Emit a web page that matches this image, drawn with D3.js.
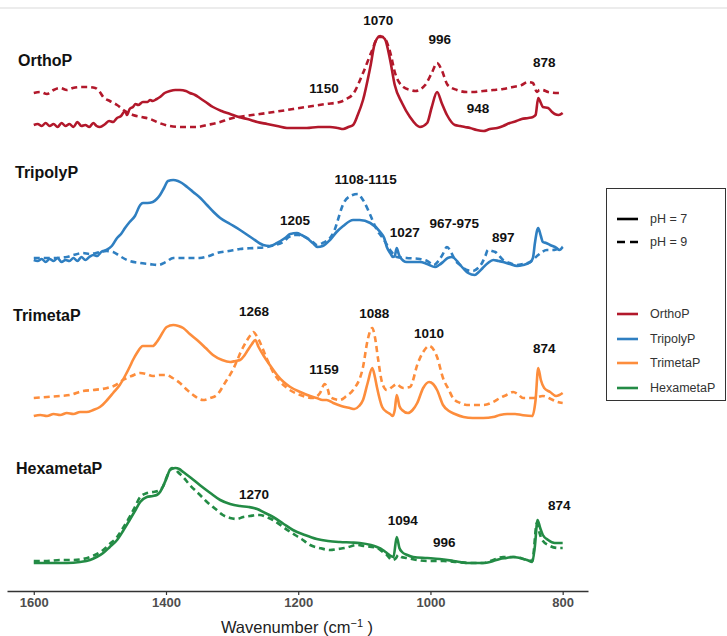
<!DOCTYPE html>
<html>
<head>
<meta charset="utf-8">
<script src="https://cdn.jsdelivr.net/npm/d3@7"></script>
<style>
  html, body { margin: 0; padding: 0; background: #fff; }
  svg { display: block; font-family: "Liberation Sans", Arial, Helvetica, sans-serif; }
</style>
</head>
<body>
<svg id="chart" width="727" height="636"></svg>
<script>
// FTIR spectra of phosphate species adsorbed at pH 7 (solid) and pH 9 (dashed).
// Each spectrum is [wavenumber (cm-1), absorbance above its own baseline (a.u.)].

const compounds = ["OrthoP", "TripolyP", "TrimetaP", "HexametaP"];
const phLevels = ["pH = 7", "pH = 9"];
const wavenumberTicks = [1600, 1400, 1200, 1000, 800];
// vertical stacking offset of each spectrum (a.u.)
const stackOffsets = [4.61, 3.15, 1.71, 0.25];

const orthoP_pH7 = [[1600,0.05],[1594,0.06],[1588,0.04],[1582,0.07],[1576,0.04],[1570,0.06],[1564,0.03],[1558,0.07],[1552,0.04],[1546,0.06],[1540,0.03],[1534,0.08],[1528,0.04],[1522,0.05],[1516,0.03],[1510,0.07],[1505,0.04],[1500,0.03],[1492,0.06],[1486,0.09],[1480,0.08],[1474,0.12],[1468,0.14],[1462,0.19],[1459,0.15],[1455,0.21],[1450,0.23],[1446,0.26],[1442,0.25],[1435,0.28],[1428,0.28],[1424,0.30],[1420,0.29],[1414,0.31],[1409,0.33],[1402,0.37],[1394,0.39],[1386,0.40],[1379,0.40],[1370,0.39],[1364,0.37],[1356,0.35],[1349,0.32],[1340,0.28],[1329,0.23],[1316,0.19],[1303,0.16],[1290,0.13],[1277,0.11],[1262,0.08],[1247,0.06],[1232,0.04],[1217,0.02],[1200,0.02],[1187,0.02],[1170,0.03],[1152,0.03],[1140,0.02],[1132,0.01],[1124,0.03],[1117,0.05],[1110,0.15],[1102,0.30],[1091,0.63],[1084,0.87],[1076,0.94],[1069,0.91],[1061,0.70],[1054,0.45],[1043,0.27],[1031,0.13],[1016,0.03],[1005,0.07],[998,0.23],[990,0.38],[983,0.27],[975,0.15],[963,0.05],[955,0.04],[948,0.03],[940,0.02],[930,0.00],[920,-0.01],[910,0.01],[899,0.02],[890,0.04],[880,0.07],[870,0.09],[862,0.11],[852,0.12],[845,0.13],[841,0.15],[837,0.32],[833,0.27],[830,0.23],[822,0.22],[816,0.18],[812,0.16],[806,0.15],[800,0.17]];

const orthoP_pH9 = [[1600,0.37],[1590,0.38],[1580,0.36],[1570,0.40],[1560,0.42],[1550,0.40],[1541,0.42],[1530,0.43],[1520,0.43],[1507,0.42],[1500,0.38],[1495,0.33],[1485,0.29],[1474,0.25],[1462,0.19],[1450,0.15],[1437,0.13],[1424,0.11],[1410,0.07],[1394,0.04],[1375,0.03],[1353,0.03],[1338,0.05],[1323,0.07],[1299,0.12],[1280,0.14],[1258,0.16],[1237,0.18],[1217,0.20],[1198,0.22],[1178,0.24],[1158,0.26],[1137,0.28],[1127,0.31],[1117,0.36],[1102,0.57],[1088,0.80],[1079,0.93],[1072,0.93],[1061,0.78],[1054,0.58],[1041,0.43],[1030,0.40],[1023,0.39],[1008,0.45],[998,0.57],[990,0.67],[983,0.60],[974,0.45],[960,0.40],[945,0.38],[936,0.38],[920,0.39],[905,0.40],[890,0.41],[875,0.43],[862,0.45],[853,0.48],[845,0.47],[839,0.38],[835,0.40],[831,0.40],[822,0.38],[807,0.37],[800,0.37]];

const tripolyP_pH7 = [[1600,0.16],[1594,0.15],[1588,0.17],[1582,0.14],[1576,0.17],[1570,0.15],[1564,0.18],[1558,0.14],[1552,0.16],[1546,0.15],[1540,0.18],[1534,0.15],[1528,0.19],[1522,0.16],[1516,0.19],[1510,0.21],[1504,0.20],[1498,0.24],[1490,0.26],[1482,0.30],[1474,0.38],[1468,0.42],[1462,0.48],[1455,0.54],[1447,0.60],[1439,0.71],[1435,0.73],[1428,0.73],[1420,0.74],[1414,0.77],[1409,0.81],[1403,0.88],[1397,0.95],[1389,0.96],[1382,0.95],[1376,0.93],[1368,0.89],[1359,0.84],[1348,0.78],[1338,0.71],[1328,0.64],[1318,0.58],[1303,0.52],[1288,0.46],[1270,0.38],[1253,0.31],[1243,0.30],[1232,0.33],[1220,0.38],[1212,0.42],[1202,0.43],[1195,0.41],[1187,0.38],[1178,0.33],[1171,0.29],[1163,0.30],[1152,0.36],[1142,0.44],[1132,0.50],[1117,0.56],[1107,0.56],[1091,0.53],[1076,0.44],[1070,0.38],[1066,0.29],[1060,0.22],[1057,0.19],[1054,0.20],[1051,0.28],[1048,0.22],[1046,0.19],[1036,0.14],[1026,0.14],[1016,0.14],[1005,0.12],[993,0.09],[987,0.11],[981,0.14],[974,0.18],[967,0.19],[960,0.15],[955,0.11],[948,0.06],[943,0.03],[933,0.01],[927,0.04],[921,0.08],[913,0.13],[905,0.16],[897,0.15],[890,0.14],[880,0.12],[869,0.10],[860,0.11],[849,0.14],[845,0.18],[842,0.33],[837,0.48],[833,0.40],[830,0.34],[825,0.33],[819,0.31],[809,0.28],[805,0.26],[800,0.29]];

const tripolyP_pH9 = [[1600,0.18],[1575,0.18],[1550,0.19],[1540,0.21],[1526,0.23],[1515,0.22],[1500,0.24],[1490,0.25],[1480,0.24],[1470,0.20],[1459,0.16],[1439,0.13],[1425,0.12],[1412,0.11],[1400,0.14],[1389,0.18],[1370,0.18],[1349,0.18],[1335,0.20],[1323,0.23],[1305,0.25],[1288,0.27],[1266,0.28],[1247,0.29],[1235,0.31],[1223,0.34],[1214,0.39],[1208,0.41],[1200,0.41],[1187,0.38],[1178,0.34],[1172,0.31],[1163,0.33],[1152,0.38],[1145,0.46],[1141,0.54],[1132,0.72],[1121,0.80],[1110,0.82],[1102,0.76],[1091,0.61],[1081,0.46],[1072,0.38],[1061,0.26],[1051,0.19],[1036,0.18],[1016,0.17],[1005,0.15],[995,0.11],[988,0.15],[982,0.21],[975,0.29],[969,0.24],[963,0.16],[955,0.11],[945,0.06],[936,0.05],[928,0.08],[922,0.13],[917,0.20],[913,0.26],[907,0.25],[902,0.24],[890,0.16],[880,0.13],[869,0.11],[860,0.12],[849,0.14],[837,0.21],[824,0.26],[815,0.26],[808,0.27],[800,0.29]];

const trimetaP_pH7 = [[1600,0.04],[1590,0.05],[1580,0.04],[1570,0.06],[1560,0.05],[1550,0.07],[1540,0.06],[1530,0.08],[1520,0.08],[1510,0.10],[1500,0.13],[1489,0.20],[1480,0.27],[1470,0.35],[1462,0.44],[1455,0.53],[1450,0.60],[1444,0.67],[1435,0.74],[1428,0.74],[1420,0.74],[1414,0.78],[1409,0.83],[1399,0.93],[1389,0.95],[1381,0.94],[1374,0.92],[1364,0.86],[1353,0.80],[1340,0.72],[1329,0.65],[1315,0.60],[1303,0.58],[1295,0.59],[1288,0.60],[1282,0.64],[1278,0.68],[1270,0.76],[1265,0.80],[1260,0.73],[1253,0.65],[1243,0.55],[1232,0.45],[1222,0.38],[1212,0.33],[1197,0.28],[1182,0.24],[1172,0.22],[1163,0.20],[1157,0.20],[1147,0.17],[1135,0.14],[1122,0.12],[1115,0.11],[1108,0.14],[1102,0.20],[1095,0.37],[1088,0.52],[1084,0.43],[1081,0.33],[1073,0.13],[1066,0.08],[1061,0.06],[1057,0.04],[1054,0.10],[1051,0.25],[1047,0.14],[1043,0.10],[1034,0.07],[1027,0.10],[1020,0.17],[1011,0.32],[1002,0.38],[996,0.36],[990,0.30],[981,0.15],[972,0.09],[963,0.06],[950,0.03],[936,0.02],[920,0.02],[905,0.03],[895,0.05],[884,0.06],[872,0.06],[862,0.05],[846,0.04],[841,0.20],[837,0.52],[833,0.40],[828,0.32],[819,0.28],[810,0.24],[805,0.25],[800,0.27]];

const trimetaP_pH9 = [[1600,0.22],[1580,0.23],[1560,0.24],[1545,0.25],[1526,0.29],[1510,0.30],[1489,0.32],[1476,0.35],[1465,0.40],[1452,0.44],[1439,0.47],[1430,0.46],[1420,0.44],[1410,0.45],[1399,0.45],[1390,0.42],[1379,0.37],[1368,0.30],[1359,0.25],[1344,0.20],[1333,0.22],[1323,0.25],[1310,0.38],[1299,0.50],[1284,0.72],[1272,0.85],[1268,0.88],[1262,0.83],[1258,0.78],[1248,0.62],[1238,0.48],[1227,0.38],[1217,0.32],[1197,0.25],[1178,0.22],[1167,0.27],[1160,0.36],[1155,0.30],[1152,0.23],[1137,0.20],[1127,0.24],[1117,0.30],[1102,0.53],[1095,0.80],[1088,0.92],[1084,0.83],[1079,0.60],[1073,0.37],[1066,0.30],[1058,0.33],[1051,0.36],[1045,0.33],[1041,0.32],[1031,0.33],[1019,0.57],[1011,0.68],[1002,0.74],[990,0.63],[981,0.42],[972,0.30],[966,0.22],[955,0.17],[945,0.15],[920,0.15],[905,0.18],[895,0.22],[885,0.25],[875,0.28],[868,0.26],[860,0.22],[845,0.22],[830,0.24],[818,0.21],[808,0.18],[800,0.17]];

const hexametaP_pH7 = [[1600,0.03],[1550,0.03],[1530,0.04],[1515,0.06],[1505,0.09],[1495,0.13],[1485,0.19],[1474,0.26],[1465,0.35],[1455,0.46],[1447,0.55],[1439,0.64],[1429,0.69],[1420,0.70],[1414,0.71],[1409,0.74],[1405,0.79],[1399,0.88],[1394,0.96],[1386,0.98],[1380,0.97],[1374,0.94],[1362,0.88],[1349,0.81],[1333,0.73],[1318,0.66],[1303,0.62],[1288,0.60],[1275,0.59],[1262,0.57],[1250,0.53],[1238,0.49],[1222,0.42],[1208,0.36],[1190,0.31],[1172,0.27],[1155,0.25],[1137,0.24],[1120,0.235],[1107,0.23],[1090,0.21],[1081,0.19],[1072,0.16],[1066,0.13],[1060,0.10],[1056,0.09],[1051,0.29],[1047,0.18],[1043,0.14],[1035,0.11],[1026,0.09],[1005,0.08],[986,0.07],[965,0.05],[945,0.03],[921,0.03],[905,0.05],[895,0.07],[885,0.08],[875,0.09],[865,0.08],[854,0.06],[846,0.04],[842,0.20],[838,0.46],[834,0.38],[830,0.31],[822,0.26],[812,0.23],[800,0.23]];

const hexametaP_pH9 = [[1600,0.05],[1580,0.05],[1560,0.06],[1540,0.06],[1515,0.09],[1495,0.16],[1485,0.22],[1474,0.29],[1465,0.38],[1455,0.49],[1447,0.59],[1439,0.69],[1429,0.73],[1420,0.74],[1409,0.76],[1404,0.80],[1399,0.89],[1391,0.98],[1386,0.97],[1382,0.94],[1374,0.89],[1364,0.81],[1350,0.72],[1338,0.64],[1325,0.57],[1314,0.51],[1303,0.48],[1293,0.47],[1283,0.49],[1273,0.50],[1262,0.51],[1258,0.51],[1248,0.49],[1238,0.46],[1225,0.40],[1212,0.34],[1195,0.27],[1182,0.21],[1168,0.18],[1152,0.16],[1140,0.17],[1129,0.18],[1111,0.21],[1100,0.20],[1081,0.18],[1072,0.14],[1066,0.11],[1058,0.06],[1052,0.08],[1049,0.11],[1044,0.09],[1036,0.08],[1020,0.06],[1005,0.05],[980,0.05],[960,0.04],[940,0.03],[921,0.03],[905,0.06],[890,0.09],[872,0.09],[854,0.06],[846,0.05],[839,0.43],[835,0.33],[831,0.26],[819,0.20],[807,0.18],[800,0.18]];

// peak annotations: [text, wavenumber anchor, height above baseline (a.u.)]
const orthoP_peaks = [["1070",1079,1.10],["996",986,0.91],["1150",1161,0.42],["948",928,0.22],["878",828,0.68]];
const tripolyP_peaks = [["1205",1205,0.56],["1108-1115",1098,0.97],["1027",1039,0.44],["967-975",964,0.53],["897",890,0.39]];
const trimetaP_peaks = [["1268",1267,1.09],["1159",1161,0.51],["1088",1085,1.07],["1010",1002,0.87],["874",828,0.72]];
const hexametaP_peaks = [["1270",1267,0.72],["1094",1042,0.46],["996",979,0.24],["874",805,0.61]];

const spectra = [
  { name: compounds[0], pH7: orthoP_pH7, pH9: orthoP_pH9, peaks: orthoP_peaks },
  { name: compounds[1], pH7: tripolyP_pH7, pH9: tripolyP_pH9, peaks: tripolyP_peaks },
  { name: compounds[2], pH7: trimetaP_pH7, pH9: trimetaP_pH9, peaks: trimetaP_peaks },
  { name: compounds[3], pH7: hexametaP_pH7, pH9: hexametaP_pH9, peaks: hexametaP_peaks }
];

// ---- styling / layout ----
const colors = ["#b2182b", "#2f7fc1", "#fd8d3c", "#238b45"];
const nameX = [18, 15, 13, 16];
const nameLevel = [0.70, 1.04, 1.05, 0.98];
const lineWidth = 2.6;
const dash = "6,4";

const svg = d3.select("#chart");

// thin rule along the top edge
svg.append("rect").attr("x", 0).attr("y", 7).attr("width", 727).attr("height", 2).attr("fill", "#ececec");

const x = d3.scaleLinear().domain([1640.5, 761.7]).range([7, 588]);
const y = d3.scaleLinear().domain([0, 5.8]).range([591, 11]);

// x axis
const axis = svg.append("g")
  .attr("transform", `translate(0,${y(0)})`)
  .call(d3.axisBottom(x).tickValues(wavenumberTicks).tickSize(4).tickSizeOuter(0).tickPadding(3).tickFormat(d3.format("d")));
axis.select(".domain").attr("stroke", "#333").attr("stroke-width", 1.4);
axis.selectAll(".tick line").attr("stroke", "#333").attr("stroke-width", 1.2);
axis.selectAll(".tick text")
  .attr("fill", "#4d4d4d").attr("font-size", 13).attr("font-weight", "bold")
  .attr("font-family", "Liberation Sans, Arial, sans-serif");

const title = svg.append("text")
  .attr("x", 297).attr("y", 633)
  .attr("text-anchor", "middle")
  .attr("font-size", 16.5).attr("fill", "#222");
title.append("tspan").text("Wavenumber (cm");
title.append("tspan").attr("dy", -6).attr("font-size", 11).text("−1");
title.append("tspan").attr("dy", 6).text(" )");

// spectra
spectra.forEach((s, i) => {
  const off = stackOffsets[i];
  const line = d3.line()
    .x(d => x(d[0]))
    .y(d => y(d[1] + off))
    .curve(d3.curveMonotoneX);

  svg.append("path").datum(s.pH9)
    .attr("d", line).attr("fill", "none")
    .attr("stroke", colors[i]).attr("stroke-width", lineWidth)
    .attr("stroke-dasharray", dash).attr("stroke-linejoin", "round");

  svg.append("path").datum(s.pH7)
    .attr("d", line).attr("fill", "none")
    .attr("stroke", colors[i]).attr("stroke-width", lineWidth)
    .attr("stroke-linejoin", "round");

  svg.append("text")
    .attr("x", nameX[i]).attr("y", y(nameLevel[i] + off))
    .attr("dominant-baseline", "central")
    .attr("font-size", 16).attr("font-weight", "bold").attr("fill", "#111")
    .text(s.name);

  svg.selectAll(null).data(s.peaks).enter().append("text")
    .attr("x", d => x(d[1])).attr("y", d => y(d[2] + off))
    .attr("text-anchor", "middle").attr("dominant-baseline", "central")
    .attr("font-size", 13.5).attr("font-weight", "bold").attr("fill", "#111")
    .text(d => d[0]);
});

// legend
const lg = svg.append("g");
lg.append("rect").attr("x", 606.5).attr("y", 188.5).attr("width", 119).attr("height", 212)
  .attr("fill", "#fff").attr("stroke", "#333").attr("stroke-width", 1);

const lgX0 = 617, lgX1 = 638, lgText = 650;
const phRows = [219, 242];
phLevels.forEach((t, k) => {
  lg.append("line").attr("x1", lgX0).attr("x2", lgX1).attr("y1", phRows[k]).attr("y2", phRows[k])
    .attr("stroke", "#000").attr("stroke-width", 2.6)
    .attr("stroke-dasharray", k === 1 ? "8,5" : null);
  lg.append("text").attr("x", lgText).attr("y", phRows[k]).attr("dominant-baseline", "central")
    .attr("font-size", 12.5).attr("fill", "#333").text(t);
});
const cRows = [314, 339, 363, 388];
compounds.forEach((c, k) => {
  lg.append("line").attr("x1", lgX0).attr("x2", lgX1).attr("y1", cRows[k]).attr("y2", cRows[k])
    .attr("stroke", colors[k]).attr("stroke-width", 2.6);
  lg.append("text").attr("x", lgText).attr("y", cRows[k]).attr("dominant-baseline", "central")
    .attr("font-size", 12.5).attr("fill", "#333").text(c);
});
</script>
</body>
</html>
